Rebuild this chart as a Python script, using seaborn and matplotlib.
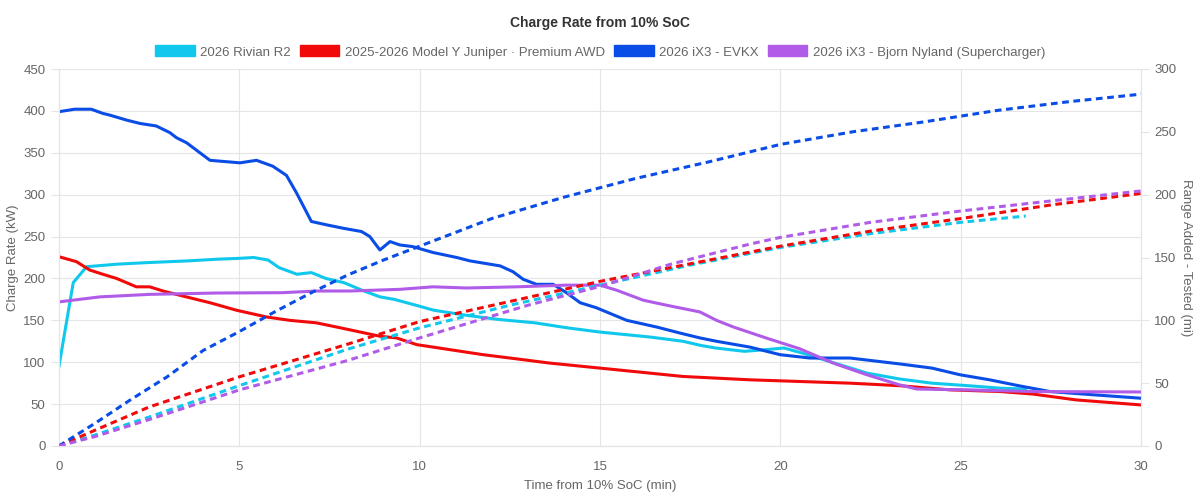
import pandas as pd
import seaborn as sns
import matplotlib.pyplot as plt
from matplotlib.patches import Patch

# series names / colours
names = [
    "2026 Rivian R2",
    "2025-2026 Model Y Juniper · Premium AWD",
    "2026 iX3 - EVKX",
    "2026 iX3 - Bjorn Nyland (Supercharger)",
]
colors = ["#10c8ec", "#f00a0a", "#0a4ce6", "#b05ce8"]

# charge rate (kW) vs time (min)
rivian_rate_t = [0, 0.4, 0.77, 1.6, 2.5, 3.6, 4.4, 5.0, 5.4, 5.8, 6.1, 6.6, 7.0, 7.4, 7.9, 8.4, 8.9,
                 9.3, 9.9, 10.4, 11.3, 12.2, 13.2, 14.1, 15.0, 16.4, 17.3, 17.8, 18.2, 19.0, 19.6,
                 20.1, 20.6, 21.5, 22.4, 23.3, 24.2, 25.2, 26.1, 26.8]
rivian_rate = [94, 195, 214, 217, 219, 221, 223, 224, 225, 222, 213, 205, 207, 200, 195, 186, 178,
               175, 168, 162, 156, 151, 147, 141, 136, 130, 125, 120, 117, 113, 115,
               117, 111, 99, 87, 80, 75, 72, 69, 68]

modely_rate_t = [0, 0.49, 0.86, 1.22, 1.6, 2.15, 2.52, 2.89, 3.44, 4.19, 4.93, 5.76, 6.4, 7.14, 7.7,
                 8.25, 8.9, 9.36, 9.92, 10.84, 11.76, 12.69, 13.6, 14.53, 15.46, 16.38, 17.3, 18.23,
                 19.16, 20.54, 21.93, 23.3, 24.7, 26.1, 27.0, 28.2, 30]
modely_rate = [226, 220, 210, 205, 200, 190, 190, 185, 179, 171, 162, 154, 150, 147, 142,
               137, 131, 129, 121, 115, 109, 104, 99, 95, 91, 87, 83, 81,
               79, 77, 75, 72, 67, 65, 62, 55, 49]

evkx_rate_t = [0, 0.44, 0.9, 1.22, 1.41, 1.88, 2.25, 2.7, 3.08, 3.26, 3.54, 4.19, 5.02, 5.48, 5.93,
               6.31, 6.59, 7.0, 7.42, 7.87, 8.39, 8.62, 8.9, 9.18, 9.45, 9.81, 10.37, 11.03, 11.39,
               12.23, 12.59, 12.87, 13.24, 13.7, 14.07, 14.45, 14.9, 15.74, 16.57, 17.2, 17.77,
               18.23, 19.16, 19.99, 20.82, 21.93, 23.3, 24.2, 24.98, 25.8, 26.6, 27.47, 28.4, 30]
evkx_rate = [399, 402, 402, 397, 395, 389, 385, 382, 374, 368, 362, 341, 338, 341, 334,
             323, 302, 268, 264, 260, 256, 250, 234, 244, 240, 238, 231, 225, 221,
             215, 208, 199, 193, 193, 183, 171, 165, 150, 142, 135, 129,
             125, 118, 109, 105, 105, 98, 93, 85, 79, 72, 65, 62, 57]

bjorn_rate_t = [0, 1.14, 2.52, 4.37, 6.2, 7.14, 8.07, 9.45, 10.37, 11.3, 12.69, 14.07, 15.0, 15.46,
                16.2, 16.85, 17.77, 18.23, 18.7, 19.6, 20.54, 21.46, 22.4, 23.3, 23.78, 25.2, 27.0, 30]
bjorn_rate = [172, 178, 181, 182.6, 183, 185, 185, 187, 190, 188.6, 190, 192, 192, 186,
              174, 168, 160, 150, 142, 129, 116, 99, 85, 73, 68, 67, 65, 64.5]

# range added (mi) vs time (min)
rivian_range_t = [0, 1, 2.5, 5, 8, 10, 12.5, 15, 17.5, 20, 22.5, 25, 26.8]
rivian_range = [0, 8.7, 23, 48, 77, 94, 112, 128, 144, 158, 169, 178, 183]

modely_range_t = [0, 1, 2.5, 5, 8, 10, 12.5, 15, 17.5, 20, 22.5, 25, 27.5, 30]
modely_range = [0, 12.5, 31, 55, 81, 99, 115, 131, 145, 159, 171, 181, 191.8, 201]

evkx_range_t = [0, 1, 2, 3, 4, 5, 6, 7, 8, 9, 10, 12, 14, 16, 18, 20, 22, 24, 26, 28, 30]
evkx_range = [0, 18, 37, 55, 76, 91, 107, 122, 136, 148, 159, 181, 198, 213, 226, 240, 250, 258,
              267, 274, 280]

bjorn_range_t = [0, 1, 2.5, 5, 8, 10, 13, 15, 17, 19.2, 20, 22.5, 25, 27.5, 30]
bjorn_range = [0, 7.5, 21, 44.6, 68, 86, 112, 127, 145, 161, 166, 178, 187, 195, 203]

rate_data = [(rivian_rate_t, rivian_rate), (modely_rate_t, modely_rate),
             (evkx_rate_t, evkx_rate), (bjorn_rate_t, bjorn_rate)]
range_data = [(rivian_range_t, rivian_range), (modely_range_t, modely_range),
              (evkx_range_t, evkx_range), (bjorn_range_t, bjorn_range)]

sns.set_style("white")
plt.rcParams["font.family"] = ["Liberation Sans", "DejaVu Sans"]

grid_c = "#e5e5e5"
text_c = "#666666"

fig = plt.figure(figsize=(12, 5), dpi=100)
ax = fig.add_axes([0.049, 0.108, 0.902, 0.754])
ax2 = ax.twinx()

for (t, v), c in zip(rate_data, colors):
    sns.lineplot(x=t, y=v, ax=ax, color=c, linewidth=2.2, sort=False, zorder=3)
for (t, v), c in zip(range_data, colors):
    sns.lineplot(x=t, y=v, ax=ax2, color=c, linewidth=2.2, sort=False, zorder=3,
                 dashes=False, linestyle=(0, (2.2, 1.5)))

ax.set_xlim(0, 30)
ax.set_ylim(0, 450)
ax2.set_ylim(0, 300)
ax.set_xticks(range(0, 31, 5))
ax.set_yticks(range(0, 451, 50))
ax2.set_yticks(range(0, 301, 50))

ax.grid(True, color=grid_c, linewidth=0.8)
ax2.grid(False)
for a in (ax, ax2):
    for s in a.spines.values():
        s.set_color(grid_c)
    a.spines["top"].set_visible(False)
    a.tick_params(colors=text_c, labelsize=9.5, length=6, width=0.8, color=grid_c)
ax.spines["bottom"].set_color("#cccccc")
ax.tick_params(axis="x", pad=5)

ax.set_xlabel("Time from 10% SoC (min)", color=text_c, fontsize=9.5, labelpad=5)
ax.set_ylabel("Charge Rate (kW)", color=text_c, fontsize=9.5, labelpad=3)
ax2.set_ylabel("Range Added - Tested (mi)", color=text_c, fontsize=9.5, rotation=-90, labelpad=11)

fig.suptitle("Charge Rate from 10% SoC", x=0.5, y=0.968, fontsize=10, fontweight="bold",
             color="#333333")

handles = [Patch(facecolor=c, edgecolor=c) for c in colors]
fig.legend(handles, names, loc="center", bbox_to_anchor=(0.5, 0.896), ncol=4, frameon=False,
           fontsize=9.5, handlelength=3.0, handleheight=0.9, handletextpad=0.4,
           columnspacing=0.7, labelcolor=text_c)

plt.savefig("out.png", dpi=100)
